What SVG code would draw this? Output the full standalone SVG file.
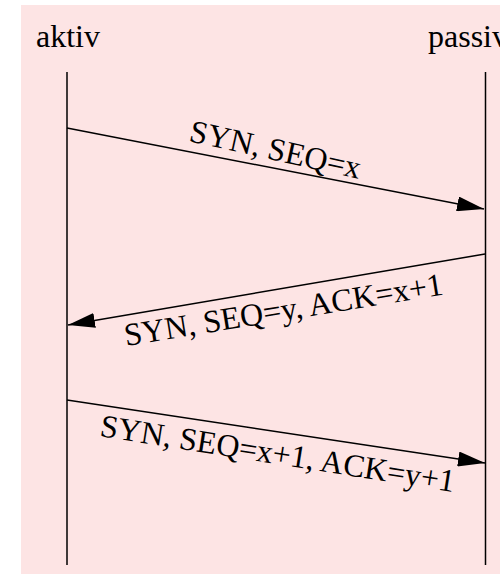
<svg xmlns="http://www.w3.org/2000/svg" width="500" height="574" viewBox="0 0 500 574">
  <style>
    .lbl { font-family: "Liberation Serif", "Times New Roman", serif; font-size: 32px; fill: #000; }
    .life { stroke: #000; stroke-width: 1.5; fill: none; }
    .msg { stroke: #000; stroke-width: 1.5; fill: none; marker-end: url(#arrow); }
  </style>
  <defs>
    <marker id="arrow" markerUnits="userSpaceOnUse" markerWidth="27" markerHeight="15" refX="27" refY="7.5" orient="auto">
      <path d="M0,0 L27,7.5 L0,15 z" fill="#000"/>
    </marker>
  </defs>

  <!-- background panel -->
  <rect x="21" y="5" width="479" height="569" fill="#fde4e4"/>

  <!-- participants with their lifelines -->
  <g id="aktiv">
    <text class="lbl" x="36" y="47">aktiv</text>
    <line class="life" x1="67" y1="72" x2="67" y2="565"/>
  </g>
  <g id="passiv">
    <text class="lbl" x="428" y="47">passiv</text>
    <line class="life" x1="485.5" y1="72" x2="485.5" y2="565"/>
  </g>

  <!-- messages -->
  <g id="connectors">
    <line class="msg" x1="67" y1="128" x2="484" y2="209"/>
    <line class="msg" x1="485" y1="254" x2="68" y2="325"/>
    <line class="msg" x1="67" y1="400" x2="485" y2="463"/>
  </g>

  <g id="labels">
    <text class="lbl" transform="translate(188,141) rotate(12.5)">SYN, SEQ=x</text>
    <text class="lbl" transform="translate(126,346) rotate(-9.2)">SYN, SEQ=y, ACK=x+1</text>
    <text class="lbl" transform="translate(99,436) rotate(9)">SYN, SEQ=x+1, ACK=y+1</text>
  </g>
</svg>
